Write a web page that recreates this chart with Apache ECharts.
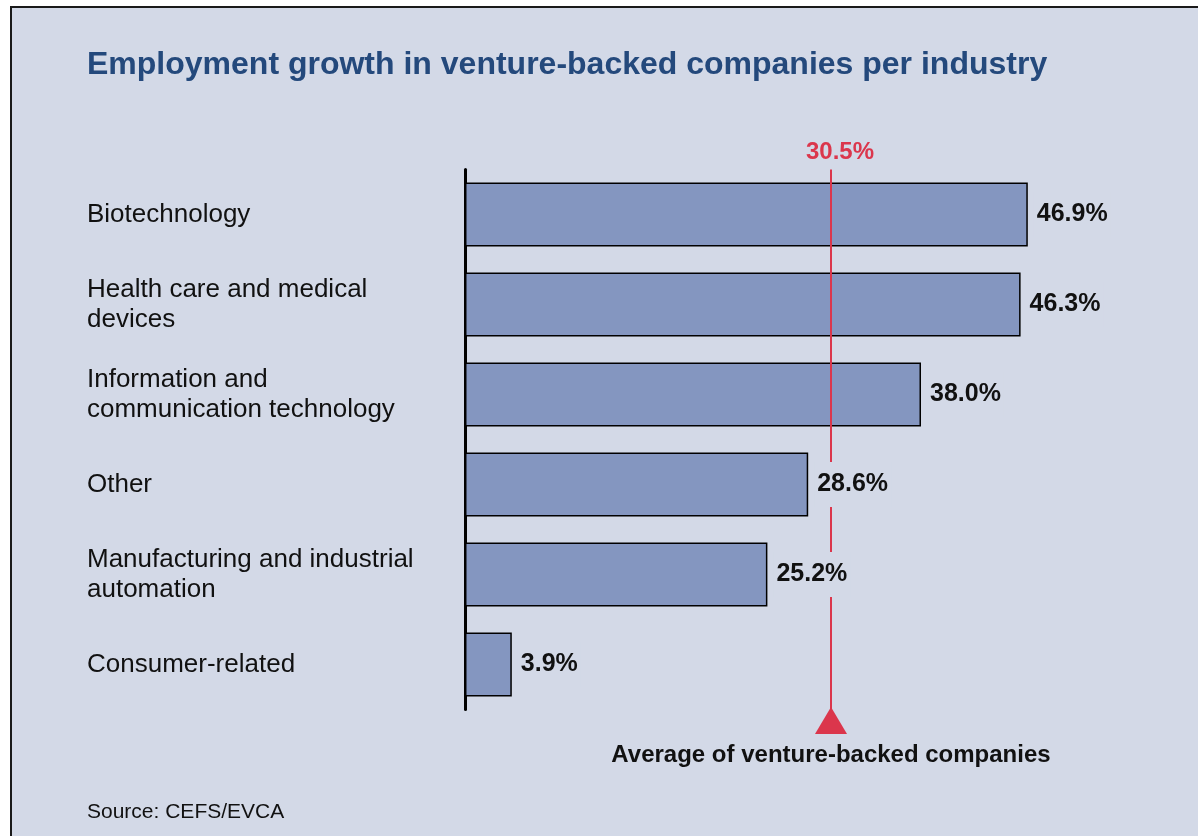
<!DOCTYPE html>
<html>
<head>
<meta charset="utf-8">
<script src="https://cdn.jsdelivr.net/npm/echarts@6/dist/echarts.min.js"></script>
<style>
  html, body { margin: 0; padding: 0; background: #ffffff; }
  #chart { width: 1198px; height: 836px; }
</style>
</head>
<body>
<div id="chart"></div>
<script>
// Industries, top to bottom
const categories = [
  'Biotechnology',
  'Health care and medical\ndevices',
  'Information and\ncommunication technology',
  'Other',
  'Manufacturing and industrial\nautomation',
  'Consumer-related'
];
// Employment growth, %
const growth = [46.9, 46.3, 38.0, 28.6, 25.2, 3.9];
// Average of all venture-backed companies, %
const average = 30.5;

const PANEL_BG = '#d3d9e7';
const BAR_FILL = '#8496c0';
const ACCENT = '#db364c';
const FONT = '"Liberation Sans", Arial, sans-serif';

const chart = echarts.init(document.getElementById('chart'));

chart.setOption({
  animation: false,
  backgroundColor: '#ffffff',
  graphic: [{
    type: 'rect',
    z: -10,
    silent: true,
    shape: { x: 11, y: 7, width: 1200, height: 840 },
    style: { fill: PANEL_BG, stroke: '#1a1a1a', lineWidth: 2 }
  }, {
    type: 'text',
    left: 87,
    top: 802,
    silent: true,
    style: { text: 'Source: CEFS/EVCA', fill: '#111', font: '21px ' + FONT }
  }],
  title: {
    text: 'Employment growth in venture-backed companies per industry',
    left: 82,
    top: 44,
    textStyle: { color: '#24497c', fontSize: 32, fontWeight: 'bold', fontFamily: FONT }
  },
  grid: { left: 465, top: 169.5, width: 720, height: 540, containLabel: false },
  xAxis: {
    type: 'value',
    min: 0,
    max: 60,
    show: false
  },
  yAxis: {
    type: 'category',
    inverse: true,
    data: categories,
    axisLine: { show: true, lineStyle: { color: '#000', width: 3 } },
    axisTick: { show: false },
    splitLine: { show: false },
    axisLabel: {
      align: 'left',
      margin: 378,
      color: '#111',
      fontSize: 26,
      lineHeight: 30,
      fontFamily: FONT
    }
  },
  series: [{
    name: 'growth',
    type: 'bar',
    data: growth,
    barWidth: 64,
    z: 2,
    itemStyle: { color: BAR_FILL, borderColor: '#000', borderWidth: 1.5 },
    markLine: {
      silent: true,
      symbol: 'none',
      z: 5,
      label: { show: false },
      lineStyle: { color: ACCENT, width: 2, type: 'solid' },
      data: [{ xAxis: average }]
    },
    markPoint: {
      silent: true,
      z: 6,
      data: [{
        coord: [average, categories[0]],
        value: average,
        symbol: 'circle',
        symbolSize: 0,
        label: {
          show: true,
          formatter: '{c}%',
          offset: [9, -62],
          color: ACCENT,
          fontSize: 24,
          fontWeight: 'bold',
          fontFamily: FONT
        }
      }, {
        coord: [average, categories[categories.length - 1]],
        value: average,
        symbol: 'triangle',
        symbolSize: [32, 27],
        symbolOffset: [0, 56],
        itemStyle: { color: ACCENT },
        label: {
          show: true,
          position: 'bottom',
          distance: 9,
          formatter: 'Average of venture-backed companies',
          color: '#111',
          fontSize: 24,
          fontWeight: 'bold',
          fontFamily: FONT
        }
      }]
    }
  }, {
    // value labels, on top of the average line
    name: 'labels',
    type: 'bar',
    data: growth,
    barWidth: 64,
    barGap: '-100%',
    z: 10,
    silent: true,
    itemStyle: { color: 'rgba(0,0,0,0)' },
    label: {
      show: true,
      position: 'right',
      distance: 6,
      formatter: p => p.value.toFixed(1) + '%',
      color: '#111',
      fontSize: 25,
      fontWeight: 'bold',
      fontFamily: FONT,
      backgroundColor: PANEL_BG,
      padding: [10, 3]
    }
  }]
});
</script>
</body>
</html>
